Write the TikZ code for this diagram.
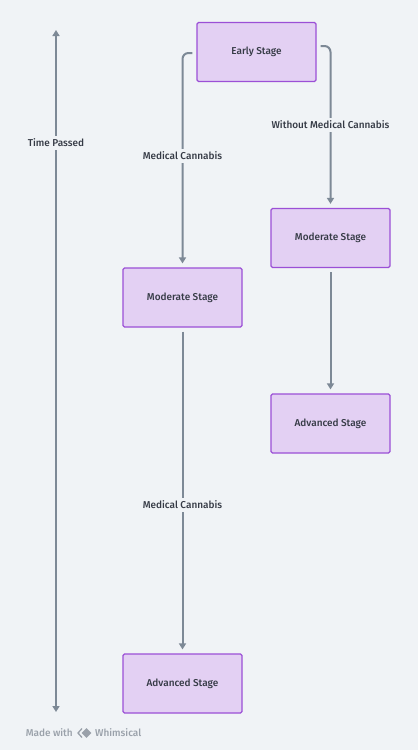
\documentclass[tikz,border=0pt]{standalone}
\usepackage{fontspec}
\setmainfont{Fira Sans Medium}
\usepackage{tikz}
\usetikzlibrary{positioning, shapes, arrows.meta, fit}

\definecolor{bgcol}{HTML}{F0F3F6}
\definecolor{boxfill}{HTML}{E3D0F3}
\definecolor{boxline}{HTML}{9B4FD6}
\definecolor{linecol}{HTML}{7D8996}
\definecolor{textcol}{HTML}{353A45}
\definecolor{markcol}{HTML}{9AA1AA}

\begin{document}
\begin{tikzpicture}[x=1pt, y=-1pt,
        stagenode/.style={rectangle, draw=boxline, fill=boxfill, line width=1.2pt, rounded corners=1.5pt,
            minimum width=119pt, minimum height=59pt, inner sep=0pt, font=\fontsize{10}{12}\selectfont, text=textcol},
        flow/.style={draw=linecol, line width=2pt, rounded corners=6pt, -{Triangle[length=6pt, width=7pt]}},
        edgelabel/.style={fill=bgcol, font=\fontsize{10}{12}\selectfont, text=textcol, inner sep=2.5pt}
    ]
    \fill[bgcol] (0,0) rectangle (418,750);
    \useasboundingbox (0,0) rectangle (418,750);
    % stages
    \node[stagenode] (early) at (256.5,52) {Early Stage};
    \node[stagenode] (modR) at (330.5,238) {Moderate Stage};
    \node[stagenode] (advR) at (330.5,423.5) {Advanced Stage};
    \node[stagenode] (modL) at (182.5,297.5) {Moderate Stage};
    \node[stagenode] (advL) at (182.5,683.5) {Advanced Stage};
    % time axis
    \coordinate (tbot) at (56,712);
    \coordinate (ttop) at (56,30);
    \draw[flow, {Triangle[length=6pt, width=7pt]}-{Triangle[length=6pt, width=7pt]}] (tbot) -- (ttop);
    \node[edgelabel] (tlabel) at (56,143) {Time Passed};
    % branches
    \draw[flow] ([xshift=-4pt, yshift=-1pt]early.west) -| ([yshift=4pt]modL.north);
    \node[edgelabel] (lab1) at (182.5,156) {Medical Cannabis};
    \draw[flow] ([xshift=4pt, yshift=6pt]early.east) -| ([yshift=4pt]modR.north);
    \node[edgelabel] (lab2) at (330.5,125) {Without Medical Cannabis};
    \draw[flow] ([yshift=-4pt]modR.south) -- ([yshift=4pt]advR.north);
    \draw[flow] ([yshift=-4pt]modL.south) -- ([yshift=4pt]advL.north);
    \node[edgelabel] (lab3) at (182.5,505) {Medical Cannabis};
    % footer
    \node[font=\fontsize{10}{12}\selectfont, text=markcol, anchor=east, inner sep=0pt] (made) at (73,733) {Made with};
    \node[fill=markcol, rotate=45, minimum size=7pt, inner sep=0pt] (logo) at (86.5,733) {};
    \draw[markcol, line width=1.3pt] (82,728.5) -- (78,733) -- (82,737.5);
    \node[font=\fontsize{10}{12}\selectfont, text=markcol, anchor=west, inner sep=0pt] (whim) at (95,733) {Whimsical};
\end{tikzpicture}
\end{document}
